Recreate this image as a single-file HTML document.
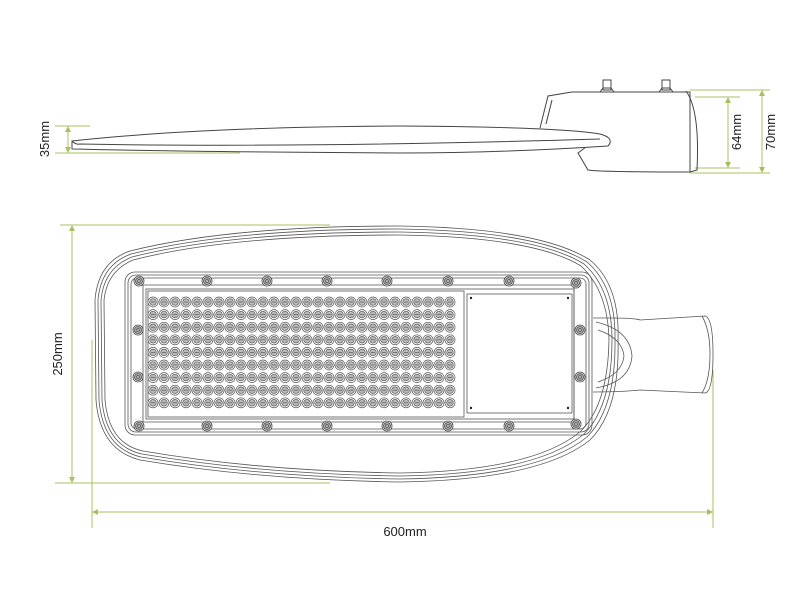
<!DOCTYPE html>
<html><head><meta charset="utf-8"><style>body{margin:0;background:#fff}svg{display:block}</style></head><body>
<svg id="s" width="800" height="600" viewBox="0 0 800 600" xmlns="http://www.w3.org/2000/svg" font-family="Liberation Sans, sans-serif">
<g stroke="#a8c060" stroke-width="1" fill="none">
<line x1="55" y1="126" x2="90" y2="126"/><line x1="55" y1="153" x2="240" y2="153"/>
<line x1="68" y1="128" x2="68" y2="151"/>
<line x1="690" y1="90" x2="770" y2="90"/><line x1="695" y1="97" x2="740" y2="97"/>
<line x1="695" y1="168" x2="740" y2="168"/><line x1="690" y1="173" x2="770" y2="173"/>
<line x1="728" y1="99" x2="728" y2="166"/><line x1="762" y1="92" x2="762" y2="171"/>
<line x1="60" y1="225" x2="330" y2="225"/><line x1="55" y1="483" x2="330" y2="483"/>
<line x1="72" y1="228" x2="72" y2="480"/>
<line x1="92" y1="340" x2="92" y2="528"/><line x1="713" y1="370" x2="713" y2="528"/>
<line x1="95" y1="512" x2="710" y2="512"/>
</g>
<g fill="#a8c060">
<path d="M68 126l-3 6h6z M68 153l-3-6h6z M728 97l-3 6h6z M728 168l-3-6h6z M762 90l-3 6h6z M762 173l-3-6h6z M72 225l-3 6h6z M72 483l-3-6h6z M92 512l6-3v6z M713 512l-6-3v6z"/>
</g>
<g font-size="13" fill="#222">
<text transform="translate(49,139) rotate(-90)" text-anchor="middle">35mm</text>
<text transform="translate(741,132) rotate(-90)" text-anchor="middle">64mm</text>
<text transform="translate(775,132) rotate(-90)" text-anchor="middle">70mm</text>
<text transform="translate(62,354) rotate(-90)" text-anchor="middle">250mm</text>
<text x="405" y="536" text-anchor="middle">600mm</text>
</g>
<g stroke="#444" stroke-width="1" fill="none">
<path d="M586 147 L578 153 L588 170 Q600 172 690 172 L690 92 L572 92 L548 96 L540 128"/>
<path d="M552 100 L546 124"/>
<path d="M686 91 Q700 110 697 170 L690 172"/>
<path d="M72 141 Q200 127 400 126 Q560 127 600 134 Q615 138 608 146 Q500 153 400 153 Q200 152 72 149 Z" fill="#fff"/>
<path d="M72 141 Q76 145 80 144 Q300 148 600 139"/>
<rect x="603" y="80" width="8" height="10"/><rect x="662" y="80" width="8" height="10"/>
<path d="M600 92l3-4h8l3 4 M659 92l3-4h8l3 4"/>
</g>
<g stroke="#555" fill="none" stroke-width="0.8">
<path d="M130 251 Q230 226 400 226 Q540 228 590 260 Q620 285 618 340 Q620 410 590 440 Q540 480 400 482 Q260 480 140 460 Q100 450 96 400 L95 300 Q98 262 130 251 Z"/>
<path d="M131 254 Q230 229 400 229 Q538 231 587 262 Q616 287 615 340 Q616 408 587 437 Q538 477 400 479 Q260 477 141 457 Q103 448 99 400 L98 300 Q101 265 131 254 Z"/>
<path d="M132 257 Q230 232 400 232 Q536 234 584 264 Q612 289 612 340 Q612 406 584 434 Q536 474 400 476 Q260 474 142 454 Q106 446 102 400 L101 300 Q104 268 132 257 Z"/>
<path d="M133 260 Q230 235 400 235 Q534 237 581 266 Q608 291 609 340 Q608 404 581 431 Q534 471 400 473 Q260 471 143 451 Q109 444 105 400 L104 300 Q107 271 133 260 Z"/>
<rect x="125" y="272" width="467" height="163" rx="10"/>
<rect x="128" y="275" width="461" height="157" rx="8"/>
<rect x="131" y="278" width="455" height="151" rx="6"/>
<line x1="138" y1="285" x2="578" y2="285"/><line x1="138" y1="422" x2="578" y2="422"/>
<line x1="143" y1="285" x2="143" y2="422"/><line x1="574" y1="285" x2="574" y2="422"/>
<rect x="146" y="289" width="428" height="130"/>
<rect x="148" y="291" width="316" height="126"/>
<rect x="467" y="294" width="105" height="119"/>
<path d="M593 318 L610 318 Q635 318 640 320 L705 316 Q713 318 713 354 Q713 392 705 393 L640 390 Q620 392 593 392"/>
<path d="M702 316 Q710 330 710 354 Q710 380 702 393"/>
<path d="M596 322 Q630 330 632 356 Q630 382 596 388"/>
<path d="M598 330 Q622 338 624 356 Q622 374 598 382"/>
</g>
<g id="leds" stroke="#555" stroke-width="0.7"></g>
<g id="screws" stroke="#444" stroke-width="0.8"></g>
<g fill="#222"><circle cx="471" cy="298" r="1.2"/><circle cx="568" cy="298" r="1.2"/><circle cx="471" cy="408" r="1.2"/><circle cx="568" cy="408" r="1.2"/></g>
</svg>
<script>
var g=document.getElementById("leds"),h="";
for(var r=0;r<9;r++)for(var c=0;c<28;c++){var x=153+c*11,y=302+r*12.6;h+='<circle cx="'+x+'" cy="'+y+'" r="5" fill="#fff"/><circle cx="'+x+'" cy="'+y+'" r="3.3" fill="#bbb"/><line x1="'+(x-2)+'" y1="'+y+'" x2="'+(x+2)+'" y2="'+y+'"/>';}
g.innerHTML=h;
var s="",pts=[[139,281],[207,281],[267,281],[327,281],[387,281],[448,281],[509,281],[576,283],[139,426],[207,426],[267,426],[327,426],[387,426],[448,426],[509,426],[576,424],[138,330],[138,377],[580,330],[580,377]];
pts.forEach(function(p){s+='<circle cx="'+p[0]+'" cy="'+p[1]+'" r="5" fill="#fff"/><circle cx="'+p[0]+'" cy="'+p[1]+'" r="3.5" fill="#aaa"/><circle cx="'+p[0]+'" cy="'+p[1]+'" r="1.3" fill="#fff"/>';});
document.getElementById("screws").innerHTML=s;
</script>
</body></html>
